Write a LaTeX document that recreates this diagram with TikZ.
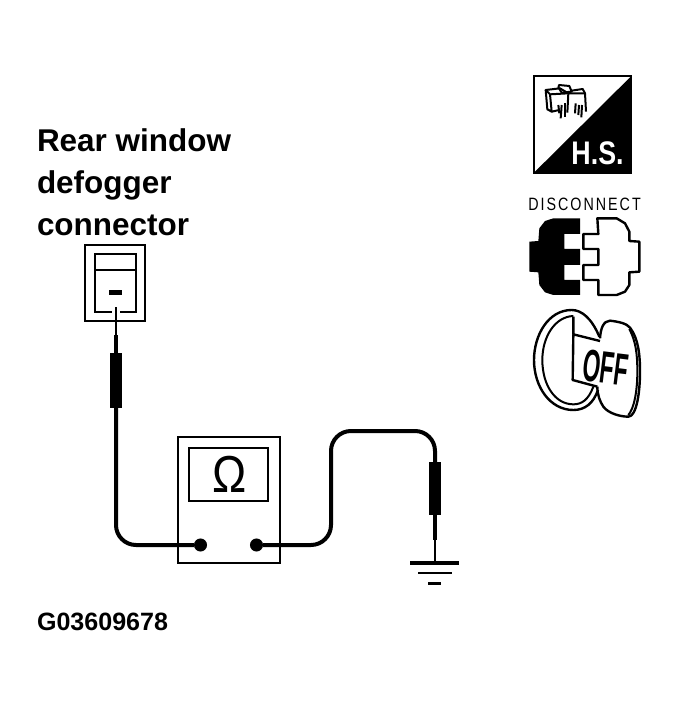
\documentclass[tikz,border=0pt]{standalone}
\usepackage{fontspec}
\setmainfont{Liberation Sans}
\usetikzlibrary{positioning}
\tikzstyle{caption} = [anchor=base west, inner sep=0, outer sep=0, font=\fontsize{23.6pt}{28pt}\selectfont\bfseries]
\tikzstyle{frame} = [rectangle, draw=black, line width=1.5pt, inner sep=0, outer sep=0]
\tikzstyle{solid} = [rectangle, fill=black, inner sep=0, outer sep=0]
\tikzstyle{terminal} = [circle, fill=black, inner sep=0, outer sep=0, minimum size=9.8pt]
\tikzstyle{wire} = [line width=3pt, rounded corners=15pt]
\tikzstyle{thin} = [line width=1.5pt, line join=round]
\tikzstyle{outline} = [line width=1.8pt, line join=round]

\begin{document}
\begin{tikzpicture}[x=.75pt, y=-.75pt]
    \useasboundingbox (0,0) rectangle (679,705);

    \node (capA) [caption] at (37,152) {Rear window};
    \node (capB) [caption, below=31.5pt of capA.base west, anchor=base west] {defogger};
    \node (capC) [caption, below=31.5pt of capB.base west, anchor=base west] {connector};
    \node (code) [caption, font=\fontsize{18.8pt}{22pt}\selectfont\bfseries] at (37,630) {G03609678};

    % connector under test
    \node (plug) [frame, minimum width=45.5pt, minimum height=56.5pt] at (115,283) {};
    \node (socket) [frame, minimum width=30.5pt, minimum height=43.5pt] at (115.5,283) {};
    \draw[line width=1.2pt] (socket.west |- 0,270) -- (socket.east |- 0,270);
    \node (minus) [solid, minimum width=9.8pt, minimum height=3.6pt] at (115.5,292.5) {};
    \node (probeA) [solid, minimum width=9pt, minimum height=41pt] at (116,380.5) {};
    \coordinate (tipA) at (116,307);
    \coordinate (neckA) at (116,335);
    \draw[white, line width=6pt] (116,308) -- (116,316);
    \draw[line width=3.4pt] (probeA.north) -- (neckA);
    \draw[line width=2.2pt] (neckA) -- (tipA);

    % ohm meter
    \node (meter) [frame, minimum width=76.5pt, minimum height=94.5pt] at (229,500) {};
    \node (display) [frame, minimum width=59pt, minimum height=39.5pt] at (228.5,474.5) {};
    \node (ohm) [inner sep=0, xscale=.88, font=\fontsize{39pt}{39pt}\selectfont] at (229.5,474) {Ω};
    \node (termA) [terminal] at (200.5,545) {};
    \node (termB) [terminal] at (256.5,545) {};

    % ground probe
    \node (probeB) [solid, minimum width=9pt, minimum height=40pt] at (435,488.5) {};
    \coordinate (neckB) at (435,540);
    \coordinate (tipB) at (435,561);
    \draw[line width=3.4pt] (probeB.south) -- (neckB);
    \draw[line width=1.6pt] (neckB) -- (tipB);
    \node (gndA) [solid, minimum width=36.8pt, minimum height=3pt] at (434.5,563) {};
    \node (gndB) [solid, minimum width=25.5pt, minimum height=2.2pt, below=4.9pt of gndA] {};
    \node (gndC) [solid, minimum width=9.8pt, minimum height=2.2pt, below=6pt of gndB] {};

    \coordinate (bendA) at (331,431);
    \draw[wire] (probeA.south) |- (termA);
    \draw[wire] (termB) -| (bendA) -| (probeB.north);

    % hood open sign
    \node (hsbox) [frame, minimum width=73pt, minimum height=72.5pt] at (582.5,124.5) {};
    \fill (hsbox.north east) -- (hsbox.south west) -- (hsbox.south east) -- cycle;
    \node (hstext) [inner sep=0, text=white, xscale=.82, font=\fontsize{24.5pt}{24.5pt}\selectfont\bfseries] at (597.5,153) {H.S.};
    \begin{scope}[shift={(510,60)}, x=.25pt, y=-.25pt]
        \draw[thin] (107,90) -- (150,85) -- (175,100) -- (120,103) -- cycle;
        \draw[thin] (107,90) -- (112,148) -- (125,155) -- (120,103);
        \draw[thin] (125,155) -- (148,150);
        \draw[thin] (175,100) -- (172,158);
        \draw[thin] (175,100) -- (225,100) -- (228,155);
        \draw[thin] (185,92) -- (218,87) -- (225,100);
        \draw[thin] (145,85) -- (147,75) -- (178,78) -- (185,95) -- (155,98) -- (147,85);
        \draw[thin] (145,135) -- (148,160);
        \draw[thin] (155,135) -- (152,175);
        \draw[thin] (165,130) -- (165,170);
        \draw[thin] (197,130) -- (195,160);
        \draw[thin] (207,135) -- (205,165);
        \draw[thin] (216,135) -- (214,172);
    \end{scope}

    % disconnect sign
    \node (distext) [inner sep=0, xscale=.8, font=\fontsize{13.4pt}{14pt}\selectfont\addfontfeature{LetterSpace=14}] at (584.5,204.5) {DISCONNECT};
    \begin{scope}[shift={(510,185)}, x=.25pt, y=-.25pt]
        \fill (210,100) -- (130,100) -- (105,108) -- (88,130) -- (85,168) -- (58,170) -- (58,260)
            -- (85,262) -- (88,300) -- (105,322) -- (130,330) -- (210,330) -- (210,285) -- (163,285)
            -- (163,240) -- (210,240) -- (210,192) -- (163,192) -- (163,147) -- (210,147) -- cycle;
        \draw[outline] (262,100) -- (320,100) -- (345,115) -- (358,140) -- (358,168) -- (388,170)
            -- (388,260) -- (358,262) -- (358,300) -- (345,320) -- (320,330) -- (265,330) -- (265,285)
            -- (220,285) -- (220,240) -- (265,240) -- (265,192) -- (220,192) -- (220,147) -- (265,147) -- cycle;
    \end{scope}

    % ignition off sign
    \begin{scope}[shift={(510,305)}, x=.25pt, y=-.25pt]
        \draw[outline] (268,95) .. controls (245,40) and (215,15) .. (185,15)
            .. controls (115,15) and (72,90) .. (72,165)
            .. controls (72,245) and (120,315) .. (190,315)
            .. controls (225,315) and (250,295) .. (264,255);
        \draw[thin] (190,33) .. controls (135,35) and (97,95) .. (97,165)
            .. controls (97,240) and (135,298) .. (190,298)
            .. controls (215,298) and (235,285) .. (250,245);
        \draw[outline] (190,35) -- (190,88) -- (270,108);
        \draw[outline] (190,88) -- (188,225) -- (262,245);
        \draw[outline] (270,100) .. controls (272,70) and (280,48) .. (300,47)
            .. controls (325,50) and (350,55) .. (360,68)
            .. controls (385,100) and (390,150) .. (390,200)
            .. controls (390,260) and (380,335) .. (355,335)
            .. controls (330,335) and (295,325) .. (280,305)
            .. controls (270,290) and (262,270) .. (262,245);
        \draw[thin] (358,72) .. controls (378,110) and (382,150) .. (382,200)
            .. controls (382,260) and (372,310) .. (355,330);
        \node (offtext) [inner sep=0, rotate=-7, xscale=.5, font=\fontsize{34pt}{34pt}\selectfont\bfseries] at (287,188) {OFF};
    \end{scope}
\end{tikzpicture}
\end{document}
